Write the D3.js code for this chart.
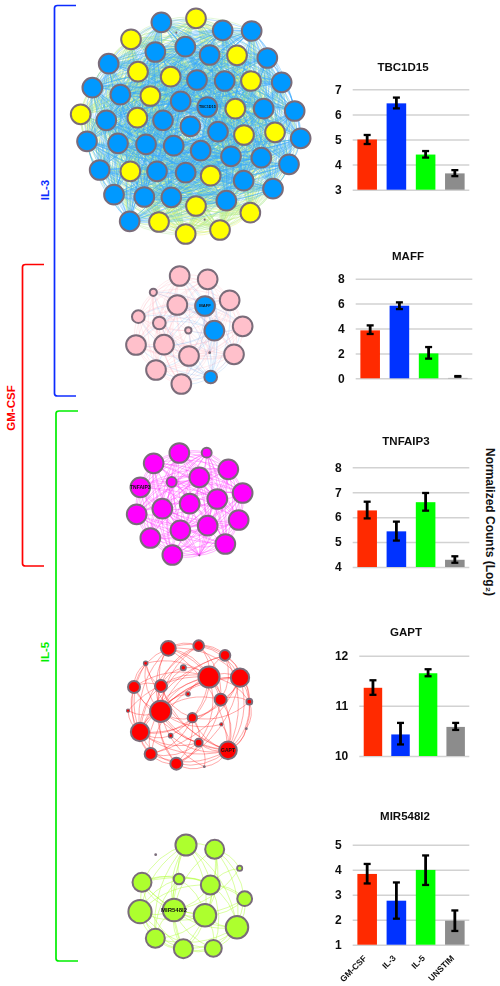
<!DOCTYPE html>
<html><head><meta charset="utf-8">
<script src="https://cdn.jsdelivr.net/npm/d3@7"></script>
<style>html,body{margin:0;padding:0;background:#fff}svg{display:block}text{font-family:"Liberation Sans",Arial,sans-serif;font-weight:bold}</style>
</head><body><div id="c"></div>
<script>
// ---- bar chart data
const conditions=["GM-CSF","IL-3","IL-5","UNSTIM"];
const geneNames=["TBC1D15","MAFF","TNFAIP3","GAPT","MIR548I2"];
const tbcValues=[5.0,6.44,4.4,3.65], tbcLow=[4.82,6.24,4.28,3.54], tbcHigh=[5.18,6.67,4.54,3.78], tbcTicks=[3,4,5,6,7];
const maffValues=[3.85,5.83,2.0,0.03], maffLow=[3.56,5.56,1.58,0.13], maffHigh=[4.25,6.1,2.51,0.18], maffTicks=[0,2,4,6,8];
const tnfValues=[6.27,5.43,6.6,4.29], tnfLow=[5.95,5.06,6.26,4.17], tnfHigh=[6.62,5.82,6.97,4.43], tnfTicks=[4,5,6,7,8];
const gaptValues=[11.36,10.43,11.65,10.58], gaptLow=[11.22,10.23,11.59,10.52], gaptHigh=[11.51,10.66,11.73,10.66], gaptTicks=[10,11,12];
const mirValues=[3.83,2.76,3.99,1.96], mirLow=[3.45,2.04,3.39,1.55], mirHigh=[4.23,3.49,4.57,2.37], mirTicks=[1,2,3,4,5];
// ---- network data: layout coordinates, node size, class (b blue, y yellow, p pink, m magenta, r red, g lime)
const tbcNetX=[304,408,488,575,213,286,376,449,531,622,146,234,332,411,494,573,665,97,181,271,362,442,526,611,704,62,139,232,309,391,474,552,645,722,81,174,258,341,422,513,604,687,119,211,291,377,452,551,639,162,253,334,408,499,571,209,297,377,480,349,434];
const tbcNetY=[67,55,91,93,118,156,140,165,166,174,191,215,230,240,243,243,247,263,284,288,304,321,326,326,333,343,361,353,361,379,395,405,397,415,424,430,433,437,452,469,473,493,510,514,514,518,527,542,566,584,591,592,618,602,638,664,666,702,690,98,659];
const tbcNetKind="bybbybbbybbyybbybbbybbybbybybbbyybbbbbbbbbbybbybbbbbybybyyy".split("").concat(["t","t"]);
const tbcNetSize=tbcNetX.map((d,i)=>i<59?31:3);
const maffNetX=[209,293,130,359,202,285,85,148,398,313,235,78,162,237,299,372,138,302,214];
const maffNetY=[48,58,97,121,135,138,170,189,199,212,211,255,254,288,278,283,330,351,372];
const maffNetSize=[31,31,13,31,31,31,21,21,31,31,12,31,31,31,4,31,31,21,31];
const maffNetKind="pppppbpppbpppppppbp".split("");
const tnfNetX=[208,290,131,355,268,185,91,398,322,239,157,80,386,293,211,121,346,187,268];
const tnfNetY=[69,68,100,118,142,156,172,189,207,221,236,253,270,287,301,324,342,375,376];
const tnfNetSize=[31,17,31,31,31,17,31,31,31,31,31,31,31,31,31,31,31,31,3];
const gaptNetX=[175,266,345,107,220,297,390,72,153,234,332,418,54,152,247,334,409,90,182,266,354,122,199,283];
const gaptNetY=[55,47,76,100,113,141,143,171,168,192,209,215,242,244,263,283,296,306,317,338,361,372,401,410];
const gaptNetSize=[24,18,18,8,10,33,29,20,20,8,20,11,6,33,16,6,4,29,8,14,28,20,20,4];
const mirNetX=[228,314,137,389,207,96,301,404,90,192,285,381,136,220,310];
const mirNetY=[60,73,89,130,162,172,180,221,260,255,271,307,340,371,370];
const mirNetSize=[33,30,4,10,18,30,30,24,36,35,35,35,30,30,27];
const gaptLinks="0-1,0-2,0-5,0-6,0-7,0-8,0-13,0-17,0-10,1-2,1-5,1-6,1-8,1-10,1-13,2-5,2-6,2-10,2-13,2-11,3-5,3-8,3-13,3-7,3-17,4-5,4-13,4-8,5-6,5-8,5-10,5-13,5-14,5-17,5-19,5-20,5-21,5-11,6-10,6-11,6-13,6-14,6-20,6-17,6-16,7-8,7-13,7-17,7-5,7-21,8-13,8-14,8-17,8-22,8-20,9-13,9-5,10-13,10-14,10-20,10-17,10-22,10-11,11-20,11-14,11-16,12-13,12-17,12-5,13-14,13-17,13-19,13-20,13-21,13-22,13-6,14-17,14-19,14-20,14-22,14-21,15-20,15-13,16-20,17-19,17-20,17-21,17-22,17-18,18-20,18-5,19-20,19-22,19-21,20-21,20-22,20-23,20-16,21-22,22-23,23-19,23-13,1-17,2-17,2-20,0-20,6-21,6-22,3-20,7-20".split(",");
const mirLinks="0-1,0-5,0-4,0-6,0-8,0-9,0-10,0-12,0-13,0-11,1-3,1-6,1-7,1-9,1-10,1-11,1-13,4-5,4-6,4-8,4-9,4-10,4-12,4-13,5-6,5-7,5-9,5-10,5-11,5-12,5-13,6-7,6-8,6-9,6-10,6-11,6-14,7-9,7-10,7-11,7-14,8-9,8-10,8-12,8-13,8-14,9-10,9-11,9-12,9-13,9-14,10-11,10-12,10-13,10-14,11-12,11-13,11-14,12-13,12-14,13-14,3-6,3-9".split(",");

// ---- page set-up
const svg=d3.select("#c").append("svg").attr("width",500).attr("height",986);
const defs=svg.append("defs");
defs.append("filter").attr("id","soft").attr("x","-5%").attr("y","-5%").attr("width","110%").attr("height","110%")
  .append("feGaussianBlur").attr("stdDeviation",0.4);
const fillOf={b:"#0099ff",y:"#ffff00",p:"#ffc0cb",m:"#ff00ff",r:"#ff0000",g:"#adff2f",t:"#8a7a80"};
const nodeStroke="#7a6c7a";

function allPairs(n){const out=[];for(let i=0;i<n;i++)for(let j=i+1;j<n;j++)out.push([i,j]);return out;}
function parseLinks(a){return a.map(s=>s.split("-").map(Number));}

function network(o){
  const k=1/3;
  const sx=d3.scaleLinear().domain([0,300]).range([o.ox,o.ox+300*k]);
  const sy=d3.scaleLinear().domain([0,300]).range([o.oy,o.oy+300*k]);
  const sr=d3.scaleLinear().domain([0,30]).range([0,10.5]);
  const g=svg.append("g").attr("filter","url(#soft)");
  const nodes=o.x.map((x,i)=>({x:sx(x),y:sy(o.y[i]),r:sr(o.size[i]),kind:o.kind[i],i}));
  const cx=d3.mean(nodes,d=>d.x), cy=d3.mean(nodes,d=>d.y);
  const path=([a,b])=>{
    const s=nodes[a],t=nodes[b],mx=(s.x+t.x)/2,my=(s.y+t.y)/2;
    let nx=-(t.y-s.y),ny=t.x-s.x;
    if(nx*(mx-cx)+ny*(my-cy)<0){nx=-nx;ny=-ny;}
    const p=d3.path();p.moveTo(s.x,s.y);p.quadraticCurveTo(mx+nx*o.bulge,my+ny*o.bulge,t.x,t.y);return p.toString();
  };
  const links=o.links.slice().sort((p,q)=>o.rank(nodes,p)-o.rank(nodes,q));
  g.append("g").attr("fill","none").selectAll("path").data(links).join("path")
    .attr("d",path).attr("stroke",d=>o.edge(nodes[d[0]].kind,nodes[d[1]].kind))
    .attr("stroke-width",o.ew).attr("stroke-opacity",o.eo);
  const sw=d=>Math.min(o.sw,d.r*0.5);
  g.append("g").selectAll("circle").data(nodes).join("circle")
    .attr("cx",d=>d.x).attr("cy",d=>d.y).attr("r",d=>d.r>2?d.r-sw(d)/2:d.r)
    .attr("fill",d=>d.r>2?fillOf[d.kind]:nodeStroke).attr("stroke",d=>d.r>2?nodeStroke:"none").attr("stroke-width",sw);
  const n=nodes[o.label];
  g.append("text").attr("x",n.x).attr("y",n.y).attr("dy","0.35em").attr("text-anchor","middle")
    .attr("font-size",o.fs).attr("fill","#111").text(o.name);
}
const rank0=()=>0;
network({ox:60,oy:0,x:tbcNetX,y:tbcNetY,size:tbcNetSize,kind:tbcNetKind,links:allPairs(59),label:21,name:geneNames[0],fs:3.8,sw:2,
  bulge:0.16,ew:0.7,eo:0.5,rank:(n,l)=>(n[l[0]].kind==="b")+(n[l[1]].kind==="b"),
  edge:(a,b)=>a==="b"&&b==="b"?"#33a6ff":a==="y"&&b==="y"?"#e6f040":"#a8e88a"});
network({ox:110,oy:260,x:maffNetX,y:maffNetY,size:maffNetSize,kind:maffNetKind,links:allPairs(19),label:5,name:geneNames[1],fs:4.2,sw:2,
  bulge:0.18,ew:0.7,eo:0.35,rank:(n,l)=>(n[l[0]].kind==="b")+(n[l[1]].kind==="b"),
  edge:(a,b)=>(a==="b"||b==="b")?"#7fb4f0":"#ffb0be"});
network({ox:110,oy:430,x:tnfNetX,y:tnfNetY,size:tnfNetSize,kind:tnfNetX.map(()=>"m"),links:allPairs(19),label:6,name:geneNames[2],fs:5,sw:2,
  bulge:0.16,ew:0.8,eo:0.5,rank:rank0,edge:()=>"#ff40ff"});
network({ox:110,oy:630,x:gaptNetX,y:gaptNetY,size:gaptNetSize,kind:gaptNetX.map(()=>"r"),links:parseLinks(gaptLinks),label:20,name:geneNames[3],fs:5,sw:2,
  bulge:0.25,ew:0.9,eo:0.42,rank:rank0,edge:()=>"#ff2020"});
network({ox:110,oy:825,x:mirNetX,y:mirNetY,size:mirNetSize,kind:mirNetX.map(()=>"g"),links:parseLinks(mirLinks),label:9,name:geneNames[4],fs:6,sw:2,
  bulge:0.22,ew:0.9,eo:0.5,rank:rank0,edge:()=>"#adff2f"});

// ---- bar charts
const barColors=["#ff2a00","#0033ff","#00ff00","#8c8c8c"];
function barChart(o){
  const x=d3.scaleBand().domain(conditions).range([o.x0,o.x1]).paddingInner(0.33).paddingOuter(0.16);
  const y=d3.scaleLinear().domain(d3.extent(o.ticks)).range([o.yBase,o.yTop]);
  const g=svg.append("g").attr("filter","url(#soft)");
  const ax=g.append("g").attr("transform",`translate(${o.x0},0)`)
    .call(d3.axisLeft(y).tickValues(o.ticks).tickFormat(d3.format("d")).tickSize(-(o.x1-o.x0)).tickPadding(11));
  ax.select(".domain").remove();
  ax.selectAll("line").attr("stroke","#d2d2d2").attr("stroke-width",1.5);
  ax.selectAll("text").attr("font-size",12).attr("fill","#111");
  g.selectAll("rect.bar").data(o.values).join("rect").attr("class","bar")
    .attr("x",(d,i)=>x(conditions[i])).attr("width",x.bandwidth())
    .attr("y",d=>y(d)).attr("height",d=>y(o.ticks[0])-y(d)).attr("fill",(d,i)=>barColors[i]);
  const cx=i=>x(conditions[i])+x.bandwidth()/2;
  const e=g.append("g").attr("stroke","#000");
  o.values.forEach((v,i)=>{
    e.append("line").attr("x1",cx(i)).attr("x2",cx(i)).attr("y1",y(o.low[i])).attr("y2",y(o.high[i])).attr("stroke-width",2.8);
    [o.low[i],o.high[i]].forEach(w=>e.append("line").attr("x1",cx(i)-3.5).attr("x2",cx(i)+3.5).attr("y1",y(w)).attr("y2",y(w)).attr("stroke-width",2.3));
  });
  g.append("text").attr("x",o.tx).attr("y",o.ty).attr("text-anchor","middle").attr("font-size",11.5).attr("fill","#111").text(o.title);
  if(o.xLabels){
    const xa=g.append("g").attr("transform",`translate(0,${o.yBase})`).call(d3.axisBottom(x).tickSize(0));
    xa.select(".domain").remove();
    xa.selectAll("text").attr("font-size",8.5).attr("fill","#111").attr("text-anchor","end")
      .attr("transform","translate(0,14) rotate(-45)").attr("dy",0).attr("y",0);
  }
}
barChart({title:geneNames[0],values:tbcValues,low:tbcLow,high:tbcHigh,ticks:tbcTicks,x0:352.7,x1:469.3,yBase:189.7,yTop:89.3,tx:403,ty:71});
barChart({title:geneNames[1],values:maffValues,low:maffLow,high:maffHigh,ticks:maffTicks,x0:355.7,x1:472.3,yBase:378.3,yTop:278.7,tx:408,ty:260});
barChart({title:geneNames[2],values:tnfValues,low:tnfLow,high:tnfHigh,ticks:tnfTicks,x0:352.7,x1:469.3,yBase:567,yTop:467.3,tx:406,ty:445});
barChart({title:geneNames[3],values:gaptValues,low:gaptLow,high:gaptHigh,ticks:gaptTicks,x0:359.3,x1:469.3,yBase:756,yTop:655.7,tx:406,ty:636});
barChart({title:geneNames[4],values:mirValues,low:mirLow,high:mirHigh,ticks:mirTicks,x0:352.7,x1:469.3,yBase:944.7,yTop:844.7,tx:405,ty:820,xLabels:true});

// ---- annotation
const notes=svg.append("g").attr("filter","url(#soft)");
svg.append("text").attr("transform","translate(486,522) rotate(90)").attr("text-anchor","middle").attr("font-size",12).attr("fill","#111")
  .text("Normalized Counts (Log\u2082)");
const brackets=[{c:"#0a2cff",x:54.5,y0:5.5,y1:396,xe:76,t:"IL-3",tx:48.5,ty:190},
                {c:"#ff0000",x:22.5,y0:264.5,y1:566,xe:44,t:"GM-CSF",tx:15,ty:408},
                {c:"#00ee00",x:56,y0:411,y1:961,xe:78,t:"IL-5",tx:48.5,ty:652}];
brackets.forEach(b=>{
  const p=d3.path();p.moveTo(b.xe,b.y0);p.lineTo(b.x+3,b.y0);p.quadraticCurveTo(b.x,b.y0,b.x,b.y0+2.5);p.lineTo(b.x,b.y1-2.5);p.quadraticCurveTo(b.x,b.y1,b.x+3,b.y1);p.lineTo(b.xe,b.y1);
  notes.append("path").attr("d",p.toString()).attr("fill","none").attr("stroke",b.c).attr("stroke-width",1.7);
  svg.append("text").attr("transform",`translate(${b.tx},${b.ty}) rotate(-90)`).attr("text-anchor","middle").attr("font-size",11.5).attr("fill",b.c).text(b.t);
});
</script></body></html>
